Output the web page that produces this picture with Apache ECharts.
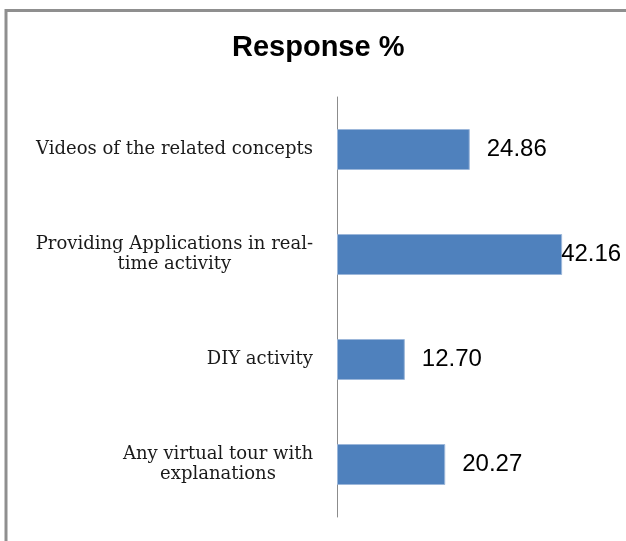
<!DOCTYPE html>
<html>
<head>
<meta charset="utf-8">
<script src="https://cdn.jsdelivr.net/npm/echarts@6/dist/echarts.min.js"></script>
<style>
  html, body { margin: 0; padding: 0; background: #fff; }
  #chart { width: 626px; height: 541px; }
</style>
</head>
<body>
<div id="chart"></div>
<script>
// Survey answers, top to bottom
const categories = [
  'Videos of the related concepts',
  'Providing Applications in real-\ntime activity',
  'DIY activity',
  'Any virtual tour with\nexplanations'
];
const responsePct = [24.86, 42.16, 12.70, 20.27];
const titleText = 'Response %';

const chart = echarts.init(document.getElementById('chart'));

// The longest bar's label sits against the plot edge, so it is pulled in over the bar end
const barData = responsePct.map(function (v, i) {
  const item = { value: v };
  if (v === Math.max.apply(null, responsePct)) {
    item.label = { distance: -1 };
  }
  return item;
});

chart.setOption({
  backgroundColor: '#ffffff',
  animation: false,
  title: {
    text: titleText,
    left: 232,
    top: 31,
    padding: 0,
    textStyle: {
      fontFamily: 'Liberation Sans, Arial, sans-serif',
      fontSize: 29,
      fontWeight: 'bold',
      color: '#000',
      lineHeight: 34
    }
  },
  graphic: [{
    type: 'rect',
    shape: { x: 6, y: 10.5, width: 700, height: 600 },
    style: { fill: 'none', stroke: '#8f8f8f', lineWidth: 3 },
    silent: true,
    z: 0
  }],
  grid: {
    left: 337,
    right: 22,
    top: 97,
    bottom: 24,
    containLabel: false
  },
  xAxis: {
    type: 'value',
    min: 0,
    max: 50,
    show: false
  },
  yAxis: {
    type: 'category',
    data: categories,
    inverse: true,
    axisLine: { show: true, lineStyle: { color: '#8c8c8c', width: 1 } },
    axisTick: { show: false },
    splitLine: { show: false },
    axisLabel: {
      margin: 24,
      align: 'right',
      color: '#1a1a1a',
      fontFamily: 'DejaVu Serif, serif',
      fontSize: 18,
      lineHeight: 20,
      formatter: function (v) { return '{c|' + v + '}'; },
      rich: {
        c: {
          align: 'center',
          fontFamily: 'DejaVu Serif, serif',
          fontSize: 18,
          lineHeight: 20,
          color: '#1a1a1a'
        }
      }
    }
  },
  series: [{
    type: 'bar',
    data: barData,
    barWidth: 41,
    itemStyle: {
      color: '#4f81bd',
      borderColor: '#9cb7da',
      borderWidth: 1
    },
    label: {
      show: true,
      position: 'right',
      distance: 17,
      color: '#000',
      fontFamily: 'Liberation Sans, Arial, sans-serif',
      fontSize: 24,
      formatter: function (p) { return p.value.toFixed(2); }
    }
  }]
});
</script>
</body>
</html>
